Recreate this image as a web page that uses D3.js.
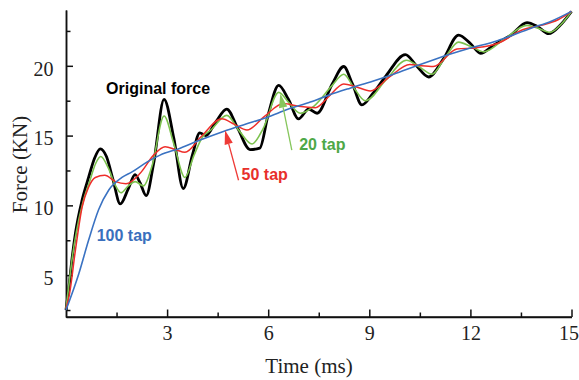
<!DOCTYPE html>
<html>
<head>
<meta charset="utf-8">
<script src="https://cdn.jsdelivr.net/npm/d3@7"></script>
<style>
	body {margin:0; background:#fff;}
	.tick text {font-family:"Liberation Serif", "Times New Roman", serif; font-size:20px; fill:#222;}
	.lbl {font-family:"Liberation Sans", Arial, sans-serif; font-weight:bold; font-size:16px;}
</style>
</head>
<body>
<div id="chart"></div>
<script>
// values: [time ms, force kN]
var original = [[0,2.5],[0.08,4.0],[0.18,6.2],[0.28,8.0],[0.48,10.4],[0.67,12.0],[0.85,13.4],[1.02,14.05],[1.2,13.5],[1.4,11.8],[1.61,10.1],[1.85,11.2],[2.05,12.2],[2.2,11.6],[2.38,10.7],[2.6,13.0],[2.91,17.6],[3.2,14.8],[3.48,11.2],[3.75,13.6],[3.97,15.2],[4.15,15.0],[4.45,16.0],[4.77,16.9],[5.1,15.5],[5.46,14.0],[5.75,14.1],[6.0,16.5],[6.31,18.6],[6.6,17.6],[6.9,16.2],[7.2,16.9],[7.45,16.6],[7.9,18.7],[8.24,19.95],[8.5,18.7],[8.78,17.2],[9.1,18.0],[9.5,19.3],[10.07,20.8],[10.4,20.0],[10.76,19.2],[11.2,20.5],[11.65,22.2],[12.0,21.6],[12.3,20.9],[12.7,21.5],[13.2,22.2],[13.68,23.1],[14.0,22.8],[14.32,22.3],[14.7,23.0],[15.0,23.9]];
var tap20 = [[0,2.6],[0.1,4.6],[0.2,6.5],[0.3,8.0],[0.5,10.2],[0.7,11.7],[0.88,13.0],[1.03,13.5],[1.25,12.7],[1.45,11.5],[1.63,10.9],[1.85,11.4],[2.05,11.7],[2.3,11.4],[2.55,12.8],[2.91,16.4],[3.2,14.4],[3.53,12.0],[3.8,13.6],[4.05,14.9],[4.3,15.4],[4.77,16.45],[5.15,15.3],[5.52,14.4],[5.85,15.5],[6.31,18.1],[6.6,17.4],[6.95,16.6],[7.35,17.1],[7.9,18.6],[8.24,19.4],[8.55,18.4],[8.88,17.5],[9.5,19.0],[10.1,20.4],[10.5,19.9],[10.86,19.4],[11.25,20.6],[11.65,21.7],[12.0,21.4],[12.4,21.0],[13.0,21.9],[13.68,22.9],[14.0,22.7],[14.37,22.4],[14.7,23.0],[15.0,23.9]];
var tap50 = [[0,2.6],[0.1,3.6],[0.28,6.8],[0.48,9.9],[0.67,11.3],[0.87,12.0],[1.15,12.15],[1.47,11.7],[1.78,11.55],[2.2,12.3],[2.6,13.6],[2.94,14.2],[3.25,14.0],[3.53,13.8],[4.0,14.9],[4.62,16.2],[5.0,15.8],[5.37,15.4],[5.9,16.4],[6.45,17.3],[6.9,17.1],[7.4,17.0],[7.8,17.8],[8.24,18.7],[8.6,18.5],[9.03,18.2],[9.6,19.2],[10.2,20.1],[10.55,20.0],[10.9,19.95],[11.6,21.2],[12.2,21.3],[12.8,21.6],[13.57,22.6],[14.1,22.9],[14.6,23.3],[15.0,23.9]];
var tap100 = [[0,2.5],[0.38,5.1],[0.67,7.5],[0.97,9.7],[1.27,11.1],[1.66,12.0],[1.96,12.4],[2.4,13.1],[2.79,13.6],[3.39,14.1],[4.0,14.7],[4.67,15.3],[5.3,15.8],[5.96,16.3],[6.6,16.9],[7.25,17.4],[7.8,17.9],[8.43,18.4],[9.1,18.9],[9.72,19.4],[10.4,20.0],[11.1,20.6],[11.9,21.2],[12.8,21.8],[13.8,22.7],[14.4,23.2],[15.0,23.9]];

var xTicks = [3, 6, 9, 12, 15], xMinor = [1.5, 4.5, 7.5, 10.5, 13.5];
var yTicks = [5, 10, 15, 20], yMinor = [2.5, 7.5, 12.5, 17.5, 22.5];

var width = 579, height = 380;
var mLeft = 66, mRight = 571.5, mTop = 10, mBottom = 317;

var svg = d3.select("#chart").append("svg")
	.attr("width", width)
	.attr("height", height);

var x = d3.scaleLinear().domain([0, 15]).range([mLeft, mRight]);
var y = d3.scaleLinear().domain([2, 24]).range([mBottom, mTop]);

// axes, ticks pointing inward
function styleAxis(g) {
	g.selectAll("path, line").attr("stroke", "#111").attr("stroke-width", 1.5);
}
svg.append("g").attr("transform", "translate(0," + mBottom + ")")
	.call(d3.axisBottom(x).tickValues(xMinor).tickSize(-4.5).tickSizeOuter(0).tickFormat(""))
	.call(styleAxis);
svg.append("g").attr("transform", "translate(0," + mBottom + ")")
	.call(d3.axisBottom(x).tickValues(xTicks).tickSize(-7.5).tickSizeOuter(0).tickPadding(9).tickFormat(d3.format("d")))
	.call(styleAxis)
	.call(function(g){
		g.select(".domain").attr("d", "M" + mLeft + ",0H" + mRight);
		g.selectAll(".tick text").filter(function(d){return d == 15}).attr("dx", "-3");
	});
svg.append("g").attr("transform", "translate(" + mLeft + ",0)")
	.call(d3.axisLeft(y).tickValues(yMinor).tickSize(-4.5).tickSizeOuter(0).tickFormat(""))
	.call(styleAxis);
svg.append("g").attr("transform", "translate(" + mLeft + ",0)")
	.call(d3.axisLeft(y).tickValues(yTicks).tickSize(-7).tickSizeOuter(0).tickPadding(12.5).tickFormat(d3.format("d")))
	.call(styleAxis)
	.call(function(g){ g.selectAll(".tick text").attr("dy", "0.47em"); });

svg.append("text")
	.attr("transform", "translate(27," + ((mTop + mBottom) / 2 + 1) + ") rotate(-90)")
	.attr("text-anchor", "middle")
	.style("font-family", "'Liberation Serif', serif").style("font-size", "21px").style("fill", "#222")
	.text("Force (KN)");
svg.append("text")
	.attr("x", 309).attr("y", 372.5)
	.attr("text-anchor", "middle")
	.style("font-family", "'Liberation Serif', serif").style("font-size", "21px").style("fill", "#222")
	.text("Time (ms)");

var line = d3.line()
	.x(function(d){return x(d[0])})
	.y(function(d){return y(d[1])})
	.curve(d3.curveMonotoneX);

var series = [
	{data: original, color: "#000000", w: 2.8},
	{data: tap20, color: "#7cc24e", w: 1.6},
	{data: tap50, color: "#ee2e2a", w: 1.5},
	{data: tap100, color: "#3a72c2", w: 1.6}
];
svg.selectAll("path.curve").data(series).enter().append("path")
	.attr("class", "curve")
	.attr("d", function(d){return line(d.data)})
	.attr("fill", "none")
	.attr("stroke", function(d){return d.color})
	.attr("stroke-width", function(d){return d.w})
	.attr("stroke-linejoin", "round");

// arrows pointing at the filtered curves
function arrow(t0, v0, t1, v1, col) {
	var x0 = x(t0), y0 = y(v0), x1 = x(t1), y1 = y(v1);
	var a = Math.atan2(y1 - y0, x1 - x0), L = 14, W = 4.2;
	var bx = x1 - L * Math.cos(a), by = y1 - L * Math.sin(a);
	svg.append("line").attr("x1", x0).attr("y1", y0).attr("x2", bx).attr("y2", by)
		.attr("stroke", col).attr("stroke-width", 1.3);
	svg.append("path")
		.attr("d", "M" + x1 + "," + y1 + "L" + (bx + W * Math.sin(a)) + "," + (by - W * Math.cos(a)) +
			"L" + (bx - W * Math.sin(a)) + "," + (by + W * Math.cos(a)) + "Z")
		.attr("fill", col);
}
arrow(5.12, 11.8, 4.72, 15.38, "#ee3a36");
arrow(6.70, 13.95, 6.36, 18.0, "#86c65c");

var labels = [
	{t: 1.19, v: 18.0, text: "Original force", color: "#000"},
	{t: 0.91, v: 7.45, text: "100 tap", color: "#3a6fbd"},
	{t: 5.21, v: 11.8, text: "50 tap", color: "#e8302b"},
	{t: 6.92, v: 14.0, text: "20 tap", color: "#4ea848"}
];
svg.selectAll("text.lbl").data(labels).enter().append("text")
	.attr("class", "lbl")
	.attr("x", function(d){return x(d.t)})
	.attr("y", function(d){return y(d.v)})
	.style("fill", function(d){return d.color})
	.text(function(d){return d.text});
</script>
</body>
</html>
